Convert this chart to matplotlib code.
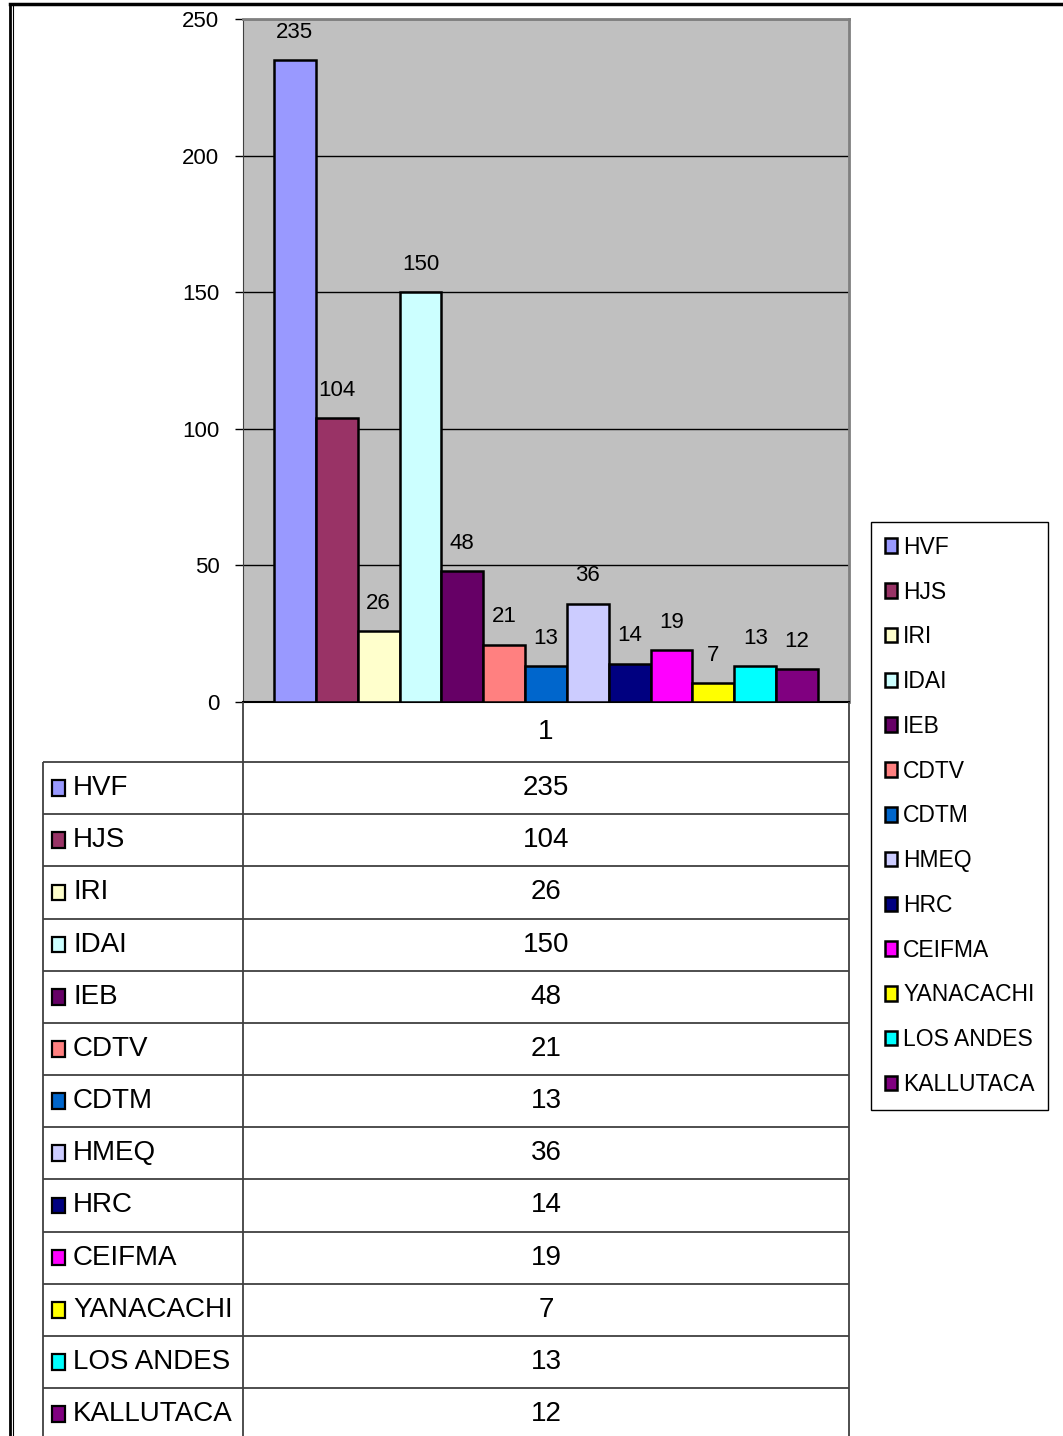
import numpy as np
import matplotlib
matplotlib.use("Agg")
import matplotlib.pyplot as plt
from matplotlib.patches import Rectangle
from matplotlib.lines import Line2D

plt.rcParams['font.family'] = ['Liberation Sans', 'DejaVu Sans']

# data ---------------------------------------------------------------
names = ["HVF", "HJS", "IRI", "IDAI", "IEB", "CDTV", "CDTM", "HMEQ",
         "HRC", "CEIFMA", "YANACACHI", "LOS ANDES", "KALLUTACA"]
values = [235, 104, 26, 150, 48, 21, 13, 36, 14, 19, 7, 13, 12]
colors = ["#9999FF", "#993366", "#FFFFCC", "#CCFFFF", "#660066", "#FF8080",
          "#0066CC", "#CCCCFF", "#000080", "#FF00FF", "#FFFF00", "#00FFFF",
          "#800080"]
category = "1"

W, H = 1063, 1436


def fx(px):
    return px / W


def fy(py):
    return 1 - py / H


fig = plt.figure(figsize=(W / 100, H / 100), dpi=100)

# bar chart ----------------------------------------------------------
ax = fig.add_axes([fx(243), fy(702), (849 - 243) / W, (702 - 19) / H])
ax.set_facecolor("#C0C0C0")
x = np.arange(len(values))
bars = ax.bar(x, values, width=1.0, color=colors, edgecolor="black",
              linewidth=1.8, zorder=3)
ax.set_xlim(-1.24, len(values) - 1 + 1.24)
ax.set_ylim(0, 250)
ax.set_yticks(np.arange(0, 251, 50))
ax.set_xticks([])
ax.yaxis.grid(True, color="black", linewidth=1.0, zorder=1)
ax.set_axisbelow(True)
ax.tick_params(axis="y", direction="out", length=6, width=1,
               labelsize=16, pad=11)
for s in ("top", "right"):
    ax.spines[s].set_color("#808080")
    ax.spines[s].set_linewidth(2)
ax.spines["left"].set_color("#404040")
ax.spines["bottom"].set_color("black")
ax.spines["bottom"].set_linewidth(1.5)

for b, v in zip(bars, values):
    ax.annotate(str(v), (b.get_x() + b.get_width() / 2, v),
                xytext=(0, 20), textcoords="offset points",
                ha="center", va="center", fontsize=16)

# data table under the chart -----------------------------------------
n = len(values)
head = 60 / 52.17
tax = fig.add_axes([fx(43), fy(762 + n * 52.17), (849 - 43) / W,
                    (762 + n * 52.17 - 702) / H])
tax.set_xlim(0, 806)
tax.set_ylim(n, -head)
tax.axis("off")
lc = "#404040"
tax.hlines(np.arange(n + 1), 0, 806, color=lc, linewidth=1.3, clip_on=False)
tax.vlines(0, 0, n, color=lc, linewidth=1.3, clip_on=False)
tax.vlines([200, 806], -head, n, color=lc, linewidth=1.3, clip_on=False)
tax.text(503, -head / 2, category, ha="center", va="center", fontsize=20)
for i, (nm, v, c) in enumerate(zip(names, values, colors)):
    tax.add_patch(Rectangle((9, i + 0.5 - 0.15), 13, 0.30, facecolor=c,
                            edgecolor="black", linewidth=1.6))
    tax.text(30, i + 0.5, nm, ha="left", va="center", fontsize=20)
    tax.text(503, i + 0.5, str(v), ha="center", va="center", fontsize=20)

# legend -------------------------------------------------------------
fig.legend(list(bars), names, loc="upper left",
           bbox_to_anchor=(fx(871), fy(522)), bbox_transform=fig.transFigure,
           frameon=True, fancybox=False, edgecolor="black", framealpha=1,
           fontsize=16.5, handlelength=0.55, handleheight=0.6,
           handletextpad=0.25, labelspacing=0.95, borderpad=0.6,
           borderaxespad=0)

# outer frame --------------------------------------------------------
fig.add_artist(Line2D([fx(10), fx(10)], [0, fy(4)], color="black",
                      linewidth=2, transform=fig.transFigure))
fig.add_artist(Line2D([fx(13), fx(13)], [0, fy(6)], color="black",
                      linewidth=0.8, transform=fig.transFigure))
fig.add_artist(Line2D([fx(10), 1], [fy(4), fy(4)], color="black",
                      linewidth=2.5, transform=fig.transFigure))

fig.savefig("out.png", dpi=100)
